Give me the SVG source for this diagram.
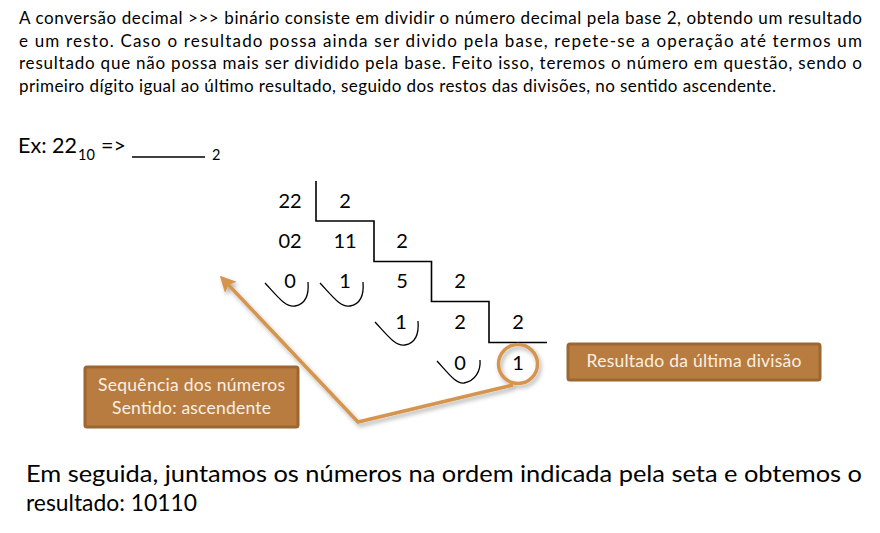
<svg xmlns="http://www.w3.org/2000/svg" width="880" height="533" viewBox="0 0 880 533">
<style>
.t{font-family:Lato,"Open Sans","Noto Sans",sans-serif;fill:#000}
.p{font-size:17px}
.n{font-size:20px;text-anchor:middle}
.ln{stroke:#000;stroke-width:1.6;fill:none}
.cv{stroke:#000;stroke-width:1.3;fill:none}
.box{fill:#b97c40;stroke:#9c6631;stroke-width:3}
.bt{font-family:Lato,"Open Sans","Noto Sans",sans-serif;font-size:17.5px;fill:#f8f0e4;text-anchor:middle}
.or{stroke:#d6954d;stroke-width:3.5;fill:none}
</style>
<defs>
<filter id="sh" x="-10%" y="-10%" width="130%" height="130%">
<feDropShadow dx="2" dy="3" stdDeviation="2" flood-color="#000" flood-opacity="0.3"/>
</filter>
<marker id="ah" viewBox="0 0 10 10" refX="8" refY="5" markerWidth="4.6" markerHeight="4.6" orient="auto" markerUnits="strokeWidth">
<path d="M0,0 L10,5 L0,10 L2,5 Z" fill="#d6954d"/>
</marker>
</defs>
<rect width="880" height="533" fill="#fff"/>

<g id="intro">
<text class="t p" x="19" y="24" textLength="843" lengthAdjust="spacing">A conversão decimal &gt;&gt;&gt; binário consiste em dividir o número decimal pela base 2, obtendo um resultado</text>
<text class="t p" x="19" y="46.5" textLength="843" lengthAdjust="spacing">e um resto. Caso o resultado possa ainda ser divido pela base, repete-se a operação até termos um</text>
<text class="t p" x="19" y="69" textLength="843" lengthAdjust="spacing">resultado que não possa mais ser dividido pela base. Feito isso, teremos o número em questão, sendo o</text>
<text class="t p" x="19" y="91.5" textLength="757" lengthAdjust="spacing">primeiro dígito igual ao último resultado, seguido dos restos das divisões, no sentido ascendente.</text>
</g>

<g id="example">
<text class="t" x="18" y="153" font-size="21.5" textLength="59" lengthAdjust="spacing">Ex: 22</text>
<text class="t" x="78" y="160" font-size="14.5">10</text>
<text class="t" x="101" y="153" font-size="21.5">=&gt;</text>
<line x1="132" y1="157" x2="205" y2="157" stroke="#000" stroke-width="1.3"/>
<text class="t" x="212" y="160" font-size="14.5">2</text>
</g>

<g id="division">
<path class="ln" d="M316,181 V221 H374 V261.5 H431.5 V301.5 H489 V342.5 H547"/>
<text class="t n" x="290" y="208">22</text>
<text class="t n" x="345" y="208">2</text>
<text class="t n" x="290" y="248">02</text>
<text class="t n" x="345" y="248">11</text>
<text class="t n" x="402" y="248">2</text>
<text class="t n" x="290" y="288">0</text>
<text class="t n" x="345" y="288">1</text>
<text class="t n" x="402" y="288">5</text>
<text class="t n" x="460" y="288">2</text>
<text class="t n" x="401" y="329">1</text>
<text class="t n" x="460" y="329">2</text>
<text class="t n" x="518" y="329">2</text>
<text class="t n" x="460" y="370">0</text>
<text class="t n" x="518" y="370">1</text>
<path class="cv" d="M265,283 C278,297 286,308 295,306 C306,304 309,294 308,282"/>
<path class="cv" d="M320,283 C333,297 341,308 350,306 C361,304 364,294 363,282"/>
<path class="cv" d="M375,322 C388,336 396,347 405,345 C416,343 419,333 418,321"/>
<path class="cv" d="M437,361 C449,374 456,384 464,383 C475,381 481,371 480,360"/>
</g>

<g id="connectors" filter="url(#sh)">
<circle class="or" cx="518" cy="364" r="19.5"/>
<polyline class="or" points="513,385 358,422 222,278" stroke-linejoin="miter" marker-end="url(#ah)"/>
</g>

<g id="box-sequencia">
<rect class="box" x="85" y="367" width="213" height="60" rx="2"/>
<text class="bt" x="191.5" y="391" textLength="187" lengthAdjust="spacing">Sequência dos números</text>
<text class="bt" x="191.5" y="414" textLength="159" lengthAdjust="spacing">Sentido: ascendente</text>
</g>

<g id="box-resultado">
<rect class="box" x="568" y="344" width="252" height="36" rx="2"/>
<text class="bt" x="694" y="367" textLength="215" lengthAdjust="spacing">Resultado da última divisão</text>
</g>

<g id="conclusion">
<text class="t" x="26" y="482" font-size="24" textLength="836" lengthAdjust="spacingAndGlyphs">Em seguida, juntamos os números na ordem indicada pela seta e obtemos o</text>
<text class="t" x="26" y="511" font-size="24" textLength="171" lengthAdjust="spacingAndGlyphs">resultado: 10110</text>
</g>
</svg>
